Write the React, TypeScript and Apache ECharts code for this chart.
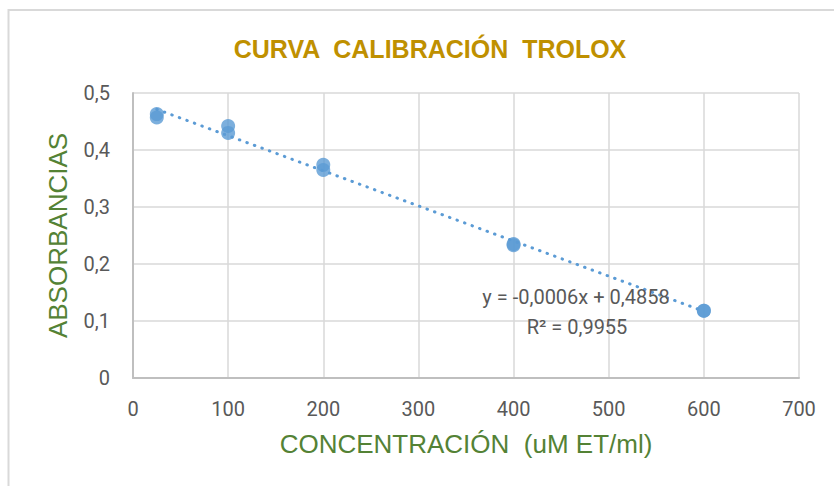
import React, { useEffect, useRef } from "react";
import * as echarts from "echarts";

const title = "CURVA  CALIBRACIÓN  TROLOX";
const xName = "CONCENTRACIÓN  (uM ET/ml)";
const yName = "ABSORBANCIAS";
const concentrations = [25, 25, 100, 100, 200, 200, 400, 400, 600, 600];
const absorbances = [0.463, 0.457, 0.442, 0.430, 0.374, 0.365, 0.235, 0.233, 0.118, 0.118];
const equationText = "y = -0,0006x + 0,4858";
const r2Text = "R² = 0,9955";

function regression(xs: number[], ys: number[]) {
  const n = xs.length;
  const mx = xs.reduce((a, b) => a + b, 0) / n;
  const my = ys.reduce((a, b) => a + b, 0) / n;
  let sxy = 0, sxx = 0;
  for (let i = 0; i < n; i++) {
    sxy += (xs[i] - mx) * (ys[i] - my);
    sxx += (xs[i] - mx) * (xs[i] - mx);
  }
  const slope = sxy / sxx;
  return { slope, intercept: my - slope * mx };
}

export default function App() {
  const ref = useRef<HTMLDivElement>(null);
  useEffect(() => {
    const chart = echarts.init(ref.current!, null, { renderer: "svg" });
    const { slope, intercept } = regression(concentrations, absorbances);
    const xmin = Math.min(...concentrations);
    const xmax = Math.max(...concentrations);
    const trend = [
      [xmin, intercept + slope * xmin],
      [xmax, intercept + slope * xmax],
    ];
    const tickFont = "Roboto";
    chart.setOption({
      animation: false,
      backgroundColor: "#ffffff",
      title: {
        text: title,
        left: 425,
        top: 31,
        textAlign: "center",
        textStyle: {
          fontFamily: "'Liberation Sans'",
          fontWeight: "bold",
          fontSize: 25,
          color: "#BF9000",
        },
      },
      graphic: [
        {
          type: "rect",
          shape: { x: 8.5, y: 10, width: 900, height: 600 },
          style: { fill: "none", stroke: "#D9D9D9", lineWidth: 2 },
          silent: true,
        },
        {
          type: "text",
          x: 576,
          y: 297,
          style: { text: equationText, font: "20px Roboto", fill: "#595959", align: "center", verticalAlign: "middle" },
          z: 10,
        },
        {
          type: "text",
          x: 577,
          y: 327,
          style: { text: r2Text, font: "20px Roboto", fill: "#595959", align: "center", verticalAlign: "middle" },
          z: 10,
        },
      ],
      grid: { left: 133, right: 35, top: 93, bottom: 108 },
      xAxis: {
        type: "value",
        min: 0,
        max: 700,
        interval: 100,
        name: xName,
        nameLocation: "middle",
        nameGap: 53,
        nameTextStyle: {
          fontFamily: "'Liberation Sans'",
          fontSize: 26,
          color: "#548235",
        },
        axisLine: { show: true, lineStyle: { color: "#BFBFBF", width: 2 } },
        axisTick: { show: false },
        axisLabel: { margin: 21, fontFamily: tickFont, fontSize: 20, color: "#595959" },
        splitLine: { show: true, lineStyle: { color: "#D9D9D9", width: 1.5 } },
      },
      yAxis: {
        type: "value",
        min: 0,
        max: 0.5,
        interval: 0.1,
        name: yName,
        nameLocation: "middle",
        nameGap: 62,
        nameTextStyle: {
          fontFamily: "'Liberation Sans'",
          fontSize: 26,
          color: "#548235",
        },
        axisLine: { show: true, lineStyle: { color: "#BFBFBF", width: 2 } },
        axisTick: { show: false },
        axisLabel: {
          margin: 23,
          fontFamily: tickFont,
          fontSize: 20,
          color: "#595959",
          formatter: (v: number) => String(Math.round(v * 10) / 10).replace(".", ","),
        },
        splitLine: { show: true, lineStyle: { color: "#D9D9D9", width: 1.5 } },
      },
      series: [
        {
          type: "line",
          data: trend,
          symbol: "none",
          lineStyle: { color: "#5B9BD5", width: 3, type: [0.5, 7.5], cap: "round" },
          z: 3,
        },
        {
          type: "scatter",
          data: concentrations.map((x, i) => [x, absorbances[i]]),
          symbol: "circle",
          symbolSize: 14,
          itemStyle: { color: "#5B9BD5" },
          z: 4,
        },
      ],
    });
    return () => chart.dispose();
  }, []);
  return (
    <div
      ref={ref}
      style={{ position: "fixed", left: 0, top: 0, width: 834, height: 486 }}
    />
  );
}
